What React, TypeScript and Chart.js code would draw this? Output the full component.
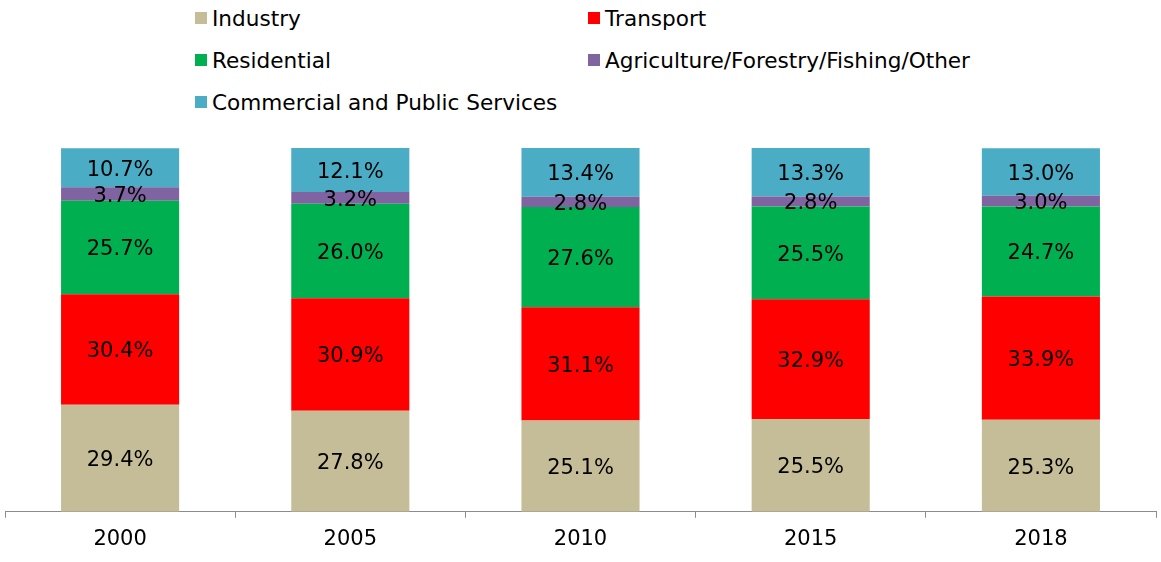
import React, { useEffect, useRef } from "react";
import { Chart, registerables } from "chart.js";

Chart.register(...registerables);

const years = ["2000", "2005", "2010", "2015", "2018"];
const industry = [29.4, 27.8, 25.1, 25.5, 25.3];
const transport = [30.4, 30.9, 31.1, 32.9, 33.9];
const residential = [25.7, 26.0, 27.6, 25.5, 24.7];
const agriculture = [3.7, 3.2, 2.8, 2.8, 3.0];
const commercial = [10.7, 12.1, 13.4, 13.3, 13.0];

const seriesNames = [
  "Industry",
  "Transport",
  "Residential",
  "Agriculture/Forestry/Fishing/Other",
  "Commercial and Public Services",
];
const seriesColors = ["#C4BD97", "#FF0000", "#00B050", "#8064A2", "#4BACC6"];
const seriesData = [industry, transport, residential, agriculture, commercial];

const FONT = "'DejaVu Sans', Verdana, sans-serif";

const labelPlugin = {
  id: "segLabels",
  afterDatasetsDraw(chart: any) {
    const ctx = chart.ctx;
    ctx.save();
    ctx.font = `21px ${FONT}`;
    ctx.fillStyle = "#000";
    ctx.textAlign = "center";
    ctx.textBaseline = "middle";
    chart.data.datasets.forEach((ds: any, di: number) => {
      const meta = chart.getDatasetMeta(di);
      meta.data.forEach((bar: any, i: number) => {
        const v = ds.data[i];
        const { x, y, base } = bar.getProps(["x", "y", "base"], true);
        ctx.fillText(v.toFixed(1) + "%", x, (y + base) / 2 + 2.5);
      });
    });
    ctx.restore();
  },
};

function Legend() {
  const items = seriesNames.map((n, i) => ({ n, c: seriesColors[i] }));
  const pos = [
    { x: 195, y: 18 },
    { x: 588, y: 18 },
    { x: 195, y: 60 },
    { x: 588, y: 60 },
    { x: 195, y: 102 },
  ];
  return (
    <>
      {items.map((it, i) => (
        <div
          key={it.n}
          style={{
            position: "absolute",
            left: pos[i].x,
            top: pos[i].y - 14,
            height: 28,
            display: "flex",
            alignItems: "center",
            fontFamily: FONT,
            fontSize: 21.6,
            color: "#000",
            whiteSpace: "nowrap",
          }}
        >
          <span
            style={{
              display: "inline-block",
              width: 12,
              height: 12,
              background: it.c,
              marginRight: 5,
            }}
          />
          <span>{it.n}</span>
        </div>
      ))}
    </>
  );
}

export default function App() {
  const ref = useRef<HTMLCanvasElement>(null);
  useEffect(() => {
    if (!ref.current) return;
    const chart = new Chart(ref.current, {
      type: "bar",
      data: {
        labels: years,
        datasets: seriesData.map((d, i) => ({
          label: seriesNames[i],
          data: d,
          backgroundColor: seriesColors[i],
          borderWidth: 0,
          categoryPercentage: 1,
          barPercentage: 0.513,
        })),
      },
      options: {
        responsive: false,
        animation: false,
        layout: { padding: { top: 148, left: 5, right: 5, bottom: 1 } },
        plugins: { legend: { display: false }, tooltip: { enabled: false } },
        scales: {
          x: {
            stacked: true,
            grid: {
              display: true,
              drawOnChartArea: false,
              drawTicks: true,
              tickLength: 6,
              color: "#8c8c8c",
              offset: true,
            },
            border: { display: true, color: "#8c8c8c", width: 1 },
            ticks: {
              color: "#000",
              font: { family: FONT, size: 21 },
              padding: 9,
              maxRotation: 0,
            },
          },
          y: {
            stacked: true,
            display: false,
            min: 0,
            max: 100,
          },
        },
      },
      plugins: [labelPlugin],
    });
    return () => chart.destroy();
  }, []);
  return (
    <div style={{ position: "absolute", left: 0, top: 0, width: 1161, height: 562, background: "#fff" }}>
      <Legend />
      <canvas ref={ref} width={1161} height={562} style={{ position: "absolute", left: 0, top: 0 }} />
    </div>
  );
}
